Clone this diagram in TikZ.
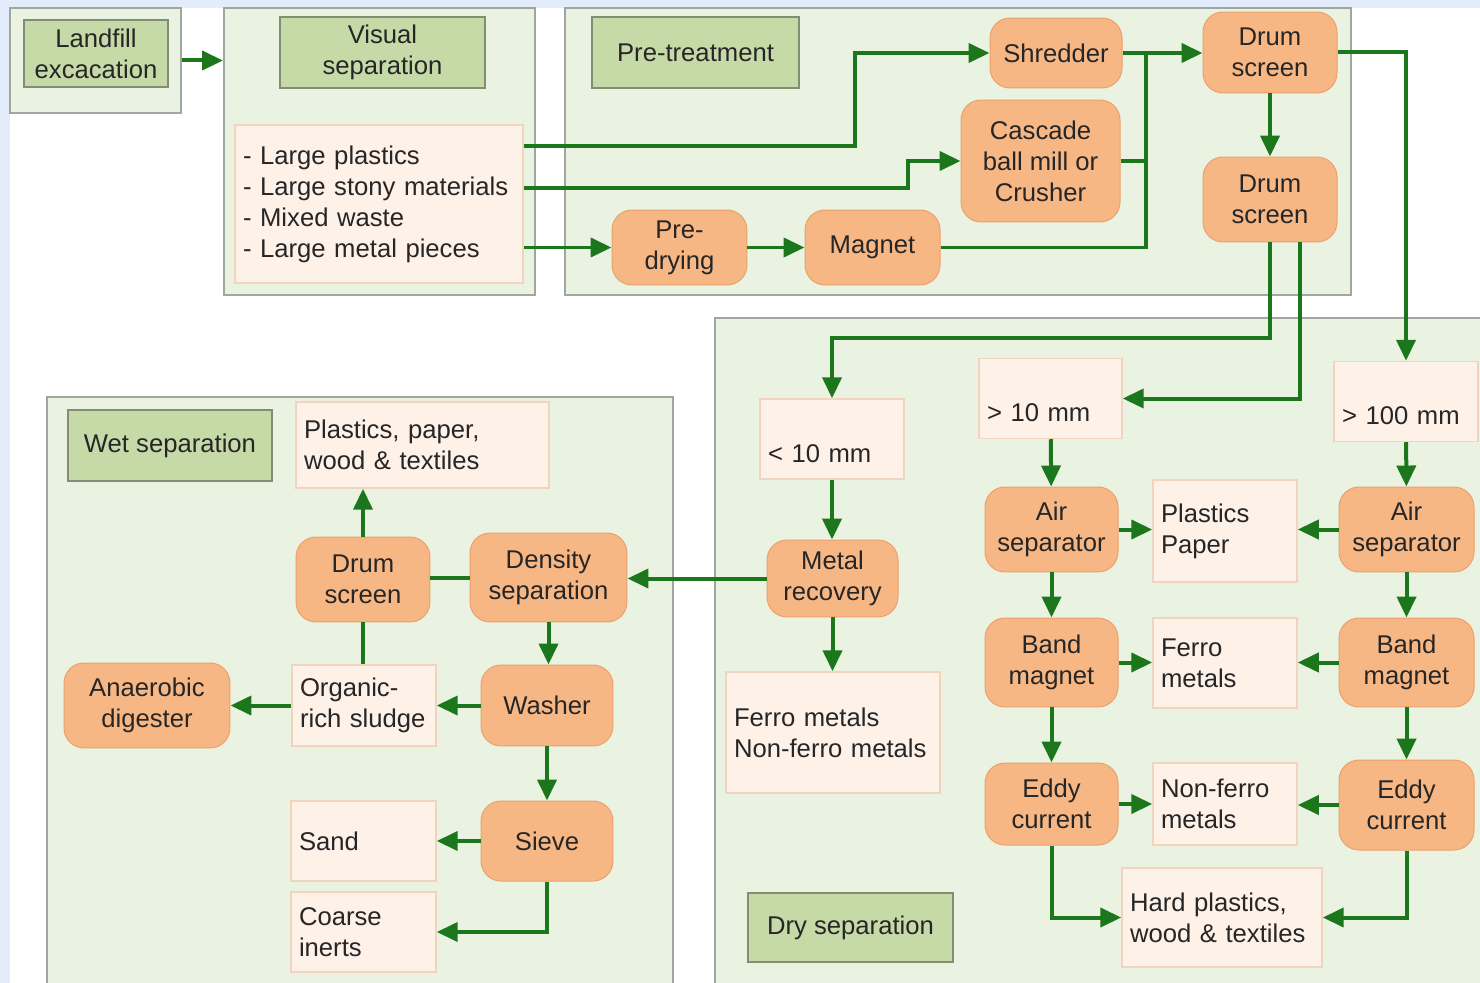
\documentclass[tikz,border=0pt]{standalone}
\usepackage{fontspec}
\setmainfont{Liberation Sans}
\usetikzlibrary{arrows.meta,calc}

\definecolor{bgblue}{RGB}{226,236,250}
\definecolor{grpfill}{RGB}{234,242,225}
\definecolor{grpdraw}{RGB}{160,166,160}
\definecolor{tagfill}{RGB}{198,218,168}
\definecolor{tagdraw}{RGB}{128,142,118}
\definecolor{unitfill}{RGB}{247,183,133}
\definecolor{unitdraw}{RGB}{236,160,108}
\definecolor{strfill}{RGB}{253,241,232}
\definecolor{strdraw}{RGB}{240,212,190}
\definecolor{flowgreen}{RGB}{28,118,28}
\definecolor{txtgray}{RGB}{38,38,38}

\begin{document}
\begin{tikzpicture}[x=0.02cm, y=-0.02cm, font=\fontsize{14.6}{17.6}\selectfont, text=txtgray]

% Define styles
\tikzstyle{group} = [rectangle, draw=grpdraw, fill=grpfill, line width=0.04cm, inner sep=0pt]
\tikzstyle{tag} = [rectangle, draw=tagdraw, fill=tagfill, line width=0.03cm, align=center]
\tikzstyle{unit} = [rectangle, rounded corners=0.4cm, draw=unitdraw, fill=unitfill, line width=0.02cm, align=center]
\tikzstyle{stream} = [rectangle, draw=strdraw, fill=strfill, line width=0.03cm, inner sep=0.16cm, align=left]
\tikzstyle{flow} = [line width=0.08cm, draw=flowgreen, -{Triangle[length=0.42cm, width=0.38cm]}]
\tikzstyle{pipe} = [line width=0.08cm, draw=flowgreen]

\useasboundingbox (0,0) rectangle (1480,983);

% BACKGROUND
\fill[bgblue] (0,0) rectangle (1480,983);
\fill[white] (10,8) rectangle (1480,983);

% GROUPS
\node (landgrp) [group, minimum width=3.42cm, minimum height=2.1cm] at (95.5,60.5) {};
\node (visgrp) [group, minimum width=6.22cm, minimum height=5.74cm] at (379.5,151.5) {};
\node (pregrp) [group, minimum width=15.72cm, minimum height=5.74cm] at (958,151.5) {};
\node (wetgrp) [group, minimum width=12.52cm, minimum height=11.86cm] at (360,693.5) {};
\node (drygrp) [group, minimum width=15.5cm, minimum height=13.44cm] at (1102.5,654) {};

% GROUP TITLES
\node (landlbl) [tag, minimum width=2.88cm, minimum height=1.34cm] at (96,53.5) {Landfill\\excacation};
\node (vislbl) [tag, minimum width=4.1cm, minimum height=1.42cm] at (382.5,52.5) {Visual\\separation};
\node (prelbl) [tag, minimum width=4.14cm, minimum height=1.42cm] at (695.5,52.5) {Pre-treatment};
\node (wetlbl) [tag, minimum width=4.08cm, minimum height=1.42cm] at (170,445.5) {Wet separation};
\node (drylbl) [tag, minimum width=4.1cm, minimum height=1.38cm] at (850.5,927.5) {Dry separation};

% PRE-TREATMENT UNITS
\node (predry) [unit, minimum width=2.7cm, minimum height=1.5cm] at (679.5,247.5) {Pre-\\drying};
\node (magnet) [unit, minimum width=2.7cm, minimum height=1.5cm] at (872.5,247.5) {Magnet};
\node (shredder) [unit, minimum width=2.64cm, minimum height=1.4cm] at (1056,53) {Shredder};
\node (cascade) [unit, minimum width=3.18cm, minimum height=2.44cm] at (1040.5,161) {Cascade\\ball mill or\\Crusher};
\node (drum1) [unit, minimum width=2.68cm, minimum height=1.62cm] at (1270,52.5) {Drum\\screen};
\node (drum2) [unit, minimum width=2.68cm, minimum height=1.7cm] at (1270,199.5) {Drum\\screen};

% DRY SEPARATION UNITS
\node (metal) [unit, minimum width=2.62cm, minimum height=1.54cm] at (832.5,578.5) {Metal\\recovery};
\node (airL) [unit, minimum width=2.66cm, minimum height=1.7cm] at (1051.5,529.5) {Air\\separator};
\node (airR) [unit, minimum width=2.7cm, minimum height=1.7cm] at (1406.5,529.5) {Air\\separator};
\node (bandL) [unit, minimum width=2.66cm, minimum height=1.78cm] at (1051.5,662.5) {Band\\magnet};
\node (bandR) [unit, minimum width=2.7cm, minimum height=1.78cm] at (1406.5,662.5) {Band\\magnet};
\node (eddyL) [unit, minimum width=2.66cm, minimum height=1.64cm] at (1051.5,804) {Eddy\\current};
\node (eddyR) [unit, minimum width=2.7cm, minimum height=1.8cm] at (1406.5,805) {Eddy\\current};

% WET SEPARATION UNITS
\node (drumW) [unit, minimum width=2.68cm, minimum height=1.7cm] at (363,579.5) {Drum\\screen};
\node (density) [unit, minimum width=3.14cm, minimum height=1.78cm] at (548.5,577.5) {Density\\separation};
\node (anaerobic) [unit, minimum width=3.32cm, minimum height=1.7cm] at (147,705.5) {Anaerobic\\digester};
\node (washer) [unit, minimum width=2.64cm, minimum height=1.62cm] at (547,705.5) {Washer};
\node (sieve) [unit, minimum width=2.64cm, minimum height=1.6cm] at (547,841) {Sieve};

% MATERIAL STREAMS
\node (items) [stream, text width=5.44cm, minimum height=3.16cm] at (379,204) {- Large plastics\\- Large stony materials\\- Mixed waste\\- Large metal pieces};
\node (fine) [stream, text width=2.56cm, text height=1.11cm, text depth=0.17cm] at (832,439) {< 10 mm};
\node (medium) [stream, text width=2.54cm, text height=1.11cm, text depth=0.17cm] at (1050.5,398.5) {> 10 mm};
\node (large) [stream, text width=2.56cm, text height=1.11cm, text depth=0.17cm] at (1406,401.5) {> 100 mm};
\node (ferronon) [stream, text width=3.96cm, minimum height=2.42cm] at (833,732.5) {Ferro metals\\Non-ferro metals};
\node (plaspap) [stream, text width=2.56cm, minimum height=2.04cm] at (1225,531) {Plastics\\Paper};
\node (ferro) [stream, text width=2.56cm, minimum height=1.8cm] at (1225,663) {Ferro\\metals};
\node (nonferro) [stream, text width=2.56cm, minimum height=1.64cm] at (1225,804) {Non-ferro\\metals};
\node (hard) [stream, text width=3.68cm, minimum height=1.98cm] at (1222,917.5) {Hard plastics,\\wood \& textiles};
\node (wetplas) [stream, text width=4.74cm, minimum height=1.72cm] at (422.5,445) {Plastics, paper,\\wood \& textiles};
\node (sludge) [stream, text width=2.56cm, minimum height=1.62cm] at (364,705.5) {Organic-\\rich sludge};
\node (sand) [stream, text width=2.58cm, minimum height=1.6cm] at (363.5,841) {Sand};
\node (inerts) [stream, text width=2.58cm, minimum height=1.6cm] at (363.5,932) {Coarse\\inerts};

% Landfill to visual separation
\draw [flow] (landgrp.east) -- (visgrp.west |- landgrp.east);

% Visual separation to pre-treatment
\draw [flow] (items.east |- 0,146) -- (855,146) |- (shredder.west);
\draw [flow] (items.east |- 0,188) -- (908,188) |- (cascade.west);
\draw [flow] (items.east |- predry.west) -- (predry.west);
\draw [flow] (predry) -- (magnet);

% Collect into first drum screen
\coordinate (join) at (1146,53);
\draw [pipe] (magnet.east) -| (join);
\draw [pipe] (cascade.east) -- (cascade.east -| join);
\draw [flow] (shredder.east) -- (shredder.east -| drum1.west);
\draw [flow] (drum1) -- (drum2);
\draw [flow] (drum1.east) -| (large.north);

% Drum screen fractions
\draw [flow] (drum2.south) -- ++(0,96) -| (fine.north);
\draw [flow] ($(drum2.south)+(30,0)$) |- (medium.east);

% Dry separation lines
\draw [flow] (medium) -- (airL);
\draw [flow] (large) -- (airR);
\draw [flow] (airL) -- (bandL);
\draw [flow] (bandL) -- (eddyL);
\draw [flow] (airR) -- (bandR);
\draw [flow] (bandR) -- (eddyR);
\draw [flow] (airL.east) -- (airL.east -| plaspap.west);
\draw [flow] (airR.west) -- (airR.west -| plaspap.east);
\draw [flow] (bandL.east) -- (bandL.east -| ferro.west);
\draw [flow] (bandR.west) -- (bandR.west -| ferro.east);
\draw [flow] (eddyL.east) -- (eddyL.east -| nonferro.west);
\draw [flow] (eddyR.west) -- (eddyR.west -| nonferro.east);
\draw [flow] (eddyL.south) |- (hard.west);
\draw [flow] (eddyR.south) |- (hard.east);
\draw [flow] (fine.south) -- (fine.south |- metal.north);
\draw [flow] (metal.south) -- (metal.south |- ferronon.north);
\draw [flow] (metal.west) -- (metal.west -| density.east);

% Wet separation lines
\draw [pipe] (density.west) -- (density.west -| drumW.east);
\draw [flow] (drumW.north) -- (drumW.north |- wetplas.south);
\draw [pipe] (drumW.south) -- (drumW.south |- sludge.north);
\draw [flow] (density.south) -- (density.south |- washer.north);
\draw [flow] (washer.west) -- (sludge.east);
\draw [flow] (sludge.west) -- (anaerobic.east);
\draw [flow] (washer) -- (sieve);
\draw [flow] (sieve.west) -- (sand.east);
\draw [flow] (sieve.south) |- (inerts.east);

\end{tikzpicture}
\end{document}
